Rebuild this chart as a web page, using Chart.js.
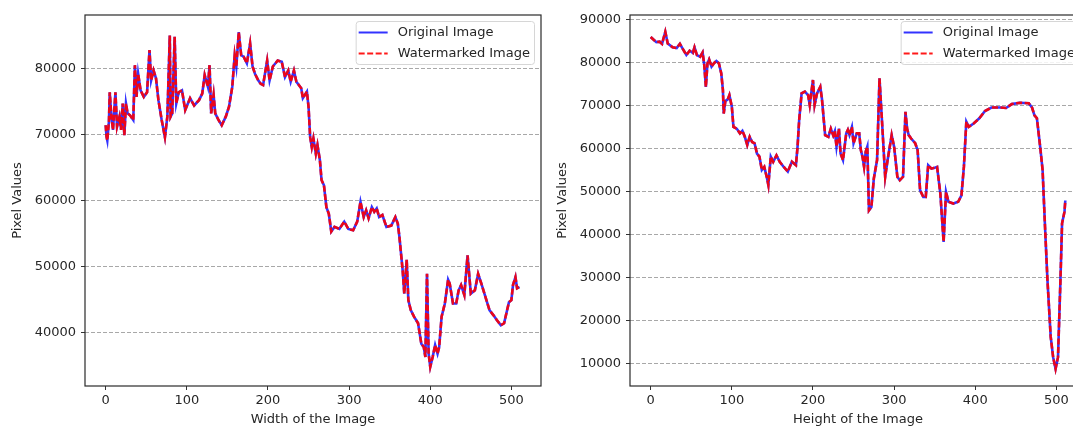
<!DOCTYPE html>
<html>
<head>
<meta charset="utf-8">
<script src="https://cdn.jsdelivr.net/npm/chart.js@4.4.1/dist/chart.umd.min.js"></script>
<style>
html, body { margin: 0; padding: 0; overflow: hidden; background: #fff; }
body { width: 1073px; height: 428px; position: relative; }
#widthChart { position: absolute; left: 0; top: 0; }
#heightChart { position: absolute; left: 545px; top: 0; }
</style>
</head>
<body>
<canvas id="widthChart" width="560" height="428"></canvas>
<canvas id="heightChart" width="560" height="428"></canvas>
<script>
// column profile (sum along each column)
var widthX = [0, 1, 2, 4, 5, 7, 9, 12, 14, 17, 19, 21, 23, 25, 27, 30, 34, 36, 38, 40,
    43, 47, 51, 54, 56, 59, 62, 65, 69, 73, 76, 79, 80, 82, 85, 87, 90, 94, 98, 104,
    109, 115, 119, 122, 126, 128, 130, 133, 135, 139, 143, 148, 152, 156, 159, 161, 164, 167, 170, 174,
    178, 181, 184, 188, 191, 194, 199, 202, 206, 212, 217, 221, 225, 228, 232, 235, 241, 243, 248, 250,
    252, 254, 256, 259, 261, 264, 266, 269, 272, 275, 278, 282, 288, 294, 299, 305, 310, 314, 318, 321,
    324, 328, 331, 334, 337, 341, 346, 352, 357, 360, 362, 366, 368, 371, 373, 376, 380, 385, 389, 392,
    394, 396, 398, 400, 403, 406, 409, 411, 414, 418, 422, 424, 428, 432, 435, 438, 442, 446, 450, 455,
    459, 463, 468, 473, 478, 482, 487, 491, 497, 500, 502, 505, 507, 510];
var widthOriginal = [71400, 69700, 69100, 72000, 76400, 72700, 70700, 76400, 71200, 72700, 70700, 74700, 69900, 74700, 73200, 72900, 72200, 80500, 75700, 79200,
    76700, 75700, 76400, 82800, 78200, 79700, 78500, 75200, 72200, 69600, 72700, 85000, 72700, 73200, 84800, 74700, 76400, 76700, 73700, 75500,
    74400, 75200, 76200, 79000, 77200, 80500, 73200, 76000, 73200, 72200, 71400, 72700, 74200, 77200, 82000, 80300, 85500, 82000, 81800, 80800,
    83800, 80300, 79200, 78200, 77700, 77500, 81200, 78200, 80300, 81200, 81000, 78700, 79700, 78000, 79700, 78000, 77000, 75500, 76500, 74200,
    69600, 68100, 69400, 67100, 68400, 66100, 63100, 62300, 59000, 58000, 55300, 56000, 55700, 56800, 55700, 55500, 56800, 59800, 57500, 58500,
    57300, 59000, 58300, 58800, 57500, 57800, 56000, 56200, 57500, 56500, 54500, 49400, 45900, 51000, 44900, 43400, 42400, 41400, 38300, 37800,
    36300, 48900, 36800, 34800, 36300, 38100, 36800, 37800, 42400, 44400, 48000, 47400, 44400, 44400, 46400, 47200, 45700, 51700, 45900, 46400,
    48900, 47400, 45400, 43400, 42600, 41900, 41100, 41400, 44600, 44900, 47200, 48400, 46700, 46900];
var widthWatermarked = widthOriginal;

// row profile
var heightX = [0, 4, 7, 11, 14, 18, 21, 27, 32, 36, 39, 44, 48, 52, 54, 57, 61, 64, 66, 68,
    70, 72, 75, 78, 81, 84, 87, 89, 90, 92, 95, 97, 100, 102, 106, 110, 113, 116, 119, 122,
    125, 128, 131, 134, 137, 140, 143, 145, 148, 151, 155, 159, 164, 169, 174, 179, 181, 183, 186, 190,
    194, 196, 200, 202, 205, 209, 211, 215, 219, 222, 225, 227, 229, 232, 234, 237, 241, 243, 245, 248,
    250, 254, 257, 259, 261, 263, 265, 267, 269, 272, 275, 279, 282, 285, 289, 292, 297, 300, 304, 307,
    311, 314, 316, 318, 321, 326, 329, 332, 336, 339, 342, 346, 350, 353, 357, 361, 364, 367, 373, 379,
    383, 386, 389, 392, 398, 405, 412, 420, 431, 438, 445, 455, 466, 470, 473, 476, 480, 483, 486, 489,
    493, 496, 499, 502, 505, 507, 510, 511];
var heightOriginal = [85900, 85200, 84700, 84800, 84300, 87100, 84400, 83500, 83300, 84300, 83300, 81700, 82700, 82200, 83500, 81700, 81300, 82300, 79400, 74300,
    79800, 80700, 79000, 79800, 80300, 79800, 77400, 73600, 68100, 71000, 71400, 72400, 69700, 65000, 64600, 63500, 64100, 62700, 60800, 62700,
    61500, 61200, 58800, 58100, 55000, 55700, 53400, 51500, 58100, 56900, 58400, 56900, 55700, 54600, 56900, 56100, 60400, 66600, 72800, 73200,
    72400, 70100, 75900, 70100, 72800, 74300, 71600, 63100, 62700, 64600, 63000, 64000, 60400, 64600, 58800, 57300, 63500, 64300, 63100, 65000,
    61200, 63500, 63500, 59600, 58100, 55700, 59200, 60400, 45600, 46400, 53000, 57300, 76300, 66600, 53400, 57300, 63100, 60400, 53400, 52600,
    53400, 68500, 64600, 63100, 62300, 61200, 59600, 50300, 48700, 48700, 56100, 55300, 55500, 55700, 49500, 38300, 49900, 47600, 47200, 47600,
    49100, 55700, 66200, 65000, 65800, 67000, 68700, 69500, 69500, 69400, 70300, 70600, 70500, 69500, 67700, 67000, 60400, 55000, 41800, 29400,
    16200, 11500, 8800, 11500, 29400, 42600, 45300, 47900];
var heightWatermarked = heightOriginal;

var seriesNames = ["Original Image", "Watermarked Image"];
var widthTicks = [40000, 50000, 60000, 70000, 80000];
var heightTicks = [10000, 20000, 30000, 40000, 50000, 60000, 70000, 80000, 90000];

var textColor = '#262626';
var fontSpec = { family: '"DejaVu Sans", sans-serif', size: 13 };

function toPoints(xs, ys) {
    var points = [];
    for (let i = 0; i < xs.length; i++) {
        points.push({ x: xs[i], y: ys[i] });
    }
    return points;
}

// axes frame + a matplotlib style legend box in the upper right corner
var frameLegend = {
    id: 'frameLegend',
    afterDraw: function (chart) {
        var ctx = chart.ctx;
        var area = chart.chartArea;
        var sets = chart.data.datasets;
        ctx.save();
        ctx.strokeStyle = '#2a2a2a';
        ctx.lineWidth = 1.2;
        ctx.strokeRect(area.left, area.top, area.right - area.left, area.bottom - area.top);

        ctx.font = '13px "DejaVu Sans", sans-serif';
        var textW = 0;
        sets.forEach(function (d) {
            textW = Math.max(textW, ctx.measureText(d.label).width);
        });
        var w = 3 + 29 + 10 + textW + 4;
        var h = 43;
        var x = area.right - 7 - w;
        var y = area.top + 6;
        ctx.fillStyle = 'rgba(255,255,255,0.85)';
        ctx.strokeStyle = '#d6d6d6';
        ctx.lineWidth = 1;
        ctx.beginPath();
        ctx.roundRect(x + 0.5, y + 0.5, w, h, 3);
        ctx.fill();
        ctx.stroke();
        sets.forEach(function (d, i) {
            var ly = y + 11.5 + i * 21;
            ctx.strokeStyle = d.borderColor;
            ctx.lineWidth = 2;
            ctx.setLineDash(d.borderDash || []);
            ctx.beginPath();
            ctx.moveTo(x + 3, ly);
            ctx.lineTo(x + 32, ly);
            ctx.stroke();
            ctx.setLineDash([]);
            ctx.fillStyle = textColor;
            ctx.textBaseline = 'middle';
            ctx.fillText(d.label, x + 42, ly + 0.5);
        });
        ctx.restore();
    }
};

function CreateChart(id, xs, original, watermarked, yTicks, yMin, yMax, xTitle) {
    var ctx = document.getElementById(id).getContext('2d');
    return new Chart(ctx, {
        type: 'line',
        data: {
            datasets: [{
                label: seriesNames[0],
                data: toPoints(xs, original),
                borderColor: 'rgba(0,0,255,0.8)',
                borderWidth: 2.6,
                pointRadius: 0,
                tension: 0,
                fill: false,
                order: 1
            }, {
                label: seriesNames[1],
                data: toPoints(xs, watermarked),
                borderColor: 'rgba(255,0,0,0.9)',
                borderWidth: 2.6,
                borderDash: [6, 2.5],
                pointRadius: 0,
                tension: 0,
                fill: false,
                order: 0
            }]
        },
        options: {
            responsive: false,
            animation: false,
            devicePixelRatio: 1,
            layout: {
                padding: { left: 0, right: 19, top: 15, bottom: 0 }
            },
            plugins: {
                legend: { display: false },
                tooltip: { enabled: false }
            },
            scales: {
                x: {
                    type: 'linear',
                    min: -25.5,
                    max: 536.5,
                    afterFit: function (scale) { scale.height = 42; },
                    ticks: {
                        stepSize: 100,
                        includeBounds: false,
                        autoSkip: false,
                        maxRotation: 0,
                        padding: 3,
                        color: textColor,
                        font: fontSpec
                    },
                    grid: {
                        drawOnChartArea: false,
                        drawTicks: true,
                        tickLength: 4,
                        tickColor: '#333'
                    },
                    border: { display: false },
                    title: {
                        display: true,
                        text: xTitle,
                        color: textColor,
                        font: fontSpec,
                        padding: { top: 0, bottom: 1 }
                    }
                },
                y: {
                    min: yMin,
                    max: yMax,
                    afterFit: function (scale) { scale.width = 85; },
                    afterBuildTicks: function (scale) {
                        scale.ticks = yTicks.map(function (v) { return { value: v }; });
                    },
                    ticks: {
                        padding: 5,
                        color: textColor,
                        font: fontSpec,
                        callback: function (v) { return String(v); }
                    },
                    grid: {
                        color: '#a8a8a8',
                        lineWidth: 1,
                        tickLength: 4,
                        tickColor: '#333',
                        tickBorderDash: []
                    },
                    border: { display: false, dash: [4, 2] },
                    title: {
                        display: true,
                        text: 'Pixel Values',
                        color: textColor,
                        font: fontSpec,
                        padding: { top: 10, bottom: 0 }
                    }
                }
            }
        },
        plugins: [frameLegend]
    });
}

var widthChart = CreateChart('widthChart', widthX, widthOriginal, widthWatermarked,
    widthTicks, 31900, 88100, 'Width of the Image');
var heightChart = CreateChart('heightChart', heightX, heightOriginal, heightWatermarked,
    heightTicks, 4800, 91000, 'Height of the Image');
</script>
</body>
</html>
